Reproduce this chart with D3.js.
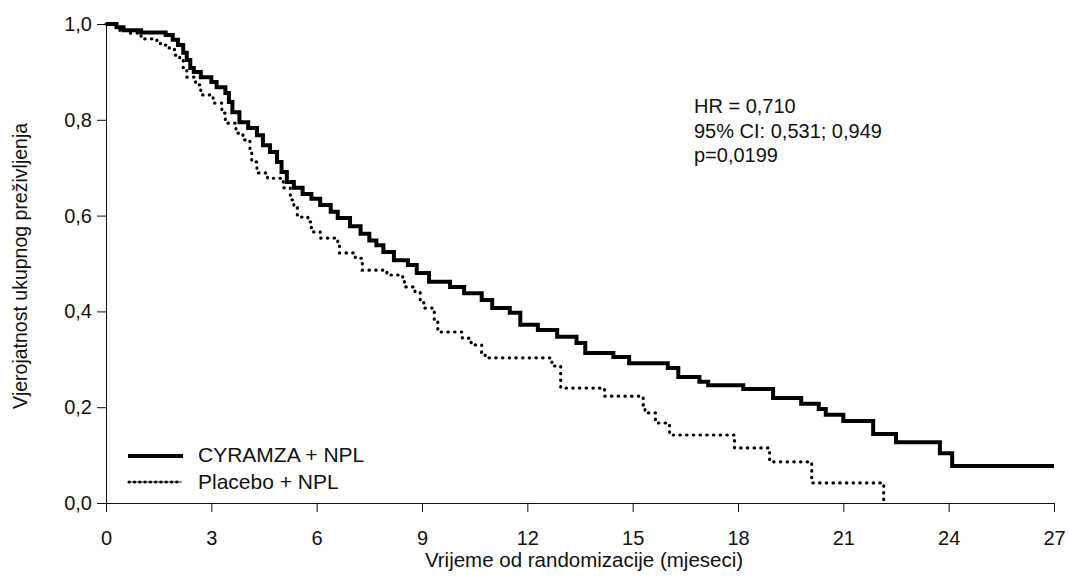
<!DOCTYPE html>
<html>
<head>
<meta charset="utf-8">
<script src="https://cdn.jsdelivr.net/npm/d3@7"></script>
<style>
  body { margin: 0; background: #fff; }
  svg { display: block; font-family: "Liberation Sans", Arial, sans-serif; }
  .tick text { font-size: 20px; fill: #111; }
  .domain, .tick line { stroke: #111; }
</style>
</head>
<body>
<div id="wrapper"></div>
<script>
// survival steps: [month, probability after drop]
const cyramzaSteps = [
  [0, 1.0], [0.3, 0.993], [0.5, 0.987], [1.0, 0.982], [1.7, 0.977], [1.9, 0.967],
  [2.05, 0.956], [2.2, 0.94], [2.3, 0.925], [2.4, 0.908], [2.5, 0.9], [2.7, 0.889],
  [3.0, 0.879], [3.15, 0.868], [3.4, 0.856], [3.5, 0.837], [3.6, 0.816], [3.8, 0.795],
  [4.05, 0.783], [4.3, 0.768], [4.47, 0.747], [4.67, 0.733], [4.87, 0.712], [5.0, 0.691],
  [5.15, 0.67], [5.35, 0.658], [5.6, 0.645], [5.85, 0.635], [6.1, 0.622], [6.4, 0.608],
  [6.6, 0.595], [6.95, 0.578], [7.25, 0.562], [7.5, 0.548], [7.7, 0.538], [7.9, 0.524],
  [8.2, 0.507], [8.6, 0.497], [8.85, 0.48], [9.2, 0.462], [9.8, 0.451], [10.2, 0.438],
  [10.7, 0.424], [11.0, 0.407], [11.5, 0.397], [11.8, 0.372], [12.3, 0.361], [12.85, 0.347],
  [13.4, 0.334], [13.65, 0.313], [14.45, 0.305], [14.9, 0.292], [16.0, 0.282], [16.3, 0.263],
  [16.9, 0.253], [17.15, 0.246], [18.15, 0.238], [19.0, 0.219], [19.8, 0.207], [20.3, 0.196],
  [20.5, 0.184], [21.0, 0.171], [21.85, 0.144], [22.5, 0.127], [23.75, 0.104], [24.1, 0.077],
  [27.0, 0.077]
]

const placeboSteps = [
  [0, 1.0], [0.25, 0.993], [0.4, 0.987], [0.6, 0.981], [1.0, 0.969], [1.45, 0.962],
  [1.55, 0.956], [1.75, 0.95], [1.95, 0.935], [2.1, 0.925], [2.2, 0.905], [2.3, 0.889],
  [2.55, 0.873], [2.7, 0.852], [3.05, 0.835], [3.3, 0.814], [3.4, 0.793], [3.7, 0.772],
  [3.9, 0.758], [4.1, 0.733], [4.15, 0.712], [4.3, 0.689], [4.6, 0.678], [5.05, 0.658],
  [5.25, 0.633], [5.35, 0.616], [5.45, 0.597], [5.75, 0.587], [5.85, 0.566], [6.1, 0.553],
  [6.6, 0.543], [6.65, 0.522], [7.1, 0.511], [7.3, 0.486], [8.0, 0.476], [8.45, 0.47],
  [8.5, 0.451], [8.8, 0.44], [8.95, 0.42], [9.05, 0.407], [9.35, 0.382], [9.45, 0.357],
  [10.15, 0.344], [10.4, 0.33], [10.7, 0.315], [10.8, 0.303], [12.7, 0.286], [12.95, 0.24],
  [14.2, 0.223], [15.3, 0.205], [15.35, 0.188], [15.65, 0.167], [16.05, 0.142], [17.9, 0.115],
  [18.9, 0.086], [20.1, 0.042], [22.15, 0.0]
]

const xTicks = [0, 3, 6, 9, 12, 15, 18, 21, 24, 27]
const yTicks = [0, 0.2, 0.4, 0.6, 0.8, 1.0]
const seriesNames = ["CYRAMZA + NPL", "Placebo + NPL"]
const statsLines = ["HR = 0,710", "95% CI: 0,531; 0,949", "p=0,0199"]

const dimensions = {
  width: 1068,
  height: 580,
  margin: { top: 24, right: 14, bottom: 77, left: 106 }
}
dimensions.boundedWidth = dimensions.width - dimensions.margin.left - dimensions.margin.right
dimensions.boundedHeight = dimensions.height - dimensions.margin.top - dimensions.margin.bottom

const wrapper = d3.select("#wrapper")
  .append("svg")
    .attr("width", dimensions.width)
    .attr("height", dimensions.height)

const bounds = wrapper.append("g")
  .attr("transform", `translate(${dimensions.margin.left},${dimensions.margin.top})`)

const xScale = d3.scaleLinear().domain([0, 27]).range([0, dimensions.boundedWidth])
const yScale = d3.scaleLinear().domain([0, 1]).range([dimensions.boundedHeight, 0])

const commaFmt = d => d3.format(".1f")(d).replace(".", ",")

// axes
const xAxis = bounds.append("g")
  .attr("transform", `translate(0,${dimensions.boundedHeight})`)
  .call(d3.axisBottom(xScale).tickValues(xTicks).tickSize(9).tickPadding(19).tickSizeOuter(0))

const yAxis = bounds.append("g")
  .call(d3.axisLeft(yScale).tickValues(yTicks).tickFormat(commaFmt).tickSize(9).tickPadding(5).tickSizeOuter(0))

// curves
const lineGen = d3.line()
  .x(d => xScale(d[0]))
  .y(d => yScale(d[1]))
  .curve(d3.curveStepAfter)

bounds.append("path")
  .attr("d", lineGen(cyramzaSteps))
  .attr("fill", "none")
  .attr("stroke", "#000")
  .attr("stroke-width", 4)

bounds.append("path")
  .attr("d", lineGen(placeboSteps))
  .attr("fill", "none")
  .attr("stroke", "#000")
  .attr("stroke-width", 3.2)
  .attr("stroke-linecap", "round")
  .attr("stroke-dasharray", "0.4,6.3")

// legend
const legend = wrapper.append("g")
  .attr("transform", "translate(128,456)")

legend.append("line")
  .attr("x1", 0).attr("x2", 55).attr("y1", 0).attr("y2", 0)
  .attr("stroke", "#000").attr("stroke-width", 4)

legend.append("line")
  .attr("x1", 1).attr("x2", 54).attr("y1", 26).attr("y2", 26)
  .attr("stroke", "#333").attr("stroke-width", 1)

legend.append("line")
  .attr("x1", 1).attr("x2", 54).attr("y1", 26).attr("y2", 26)
  .attr("stroke", "#000").attr("stroke-width", 3)
  .attr("stroke-linecap", "round")
  .attr("stroke-dasharray", "0.3,5")

legend.selectAll("text")
  .data(seriesNames)
  .join("text")
    .attr("x", 70)
    .attr("y", (d, i) => i * 27 + 6)
    .attr("font-size", 21)
    .attr("fill", "#111")
    .text(d => d)

// stats annotation
wrapper.append("g")
  .attr("transform", "translate(694,113)")
  .selectAll("text")
  .data(statsLines)
  .join("text")
    .attr("y", (d, i) => i * 24.5)
    .attr("font-size", 20)
    .attr("fill", "#111")
    .text(d => d)

// axis labels
wrapper.append("text")
  .attr("x", 584)
  .attr("y", 567)
  .attr("text-anchor", "middle")
  .attr("font-size", 20.5)
  .attr("fill", "#111")
  .text("Vrijeme od randomizacije (mjeseci)")

wrapper.append("text")
  .attr("transform", `translate(27,266) rotate(-90)`)
  .attr("text-anchor", "middle")
  .attr("font-size", 19.5)
  .attr("fill", "#111")
  .text("Vjerojatnost ukupnog preživljenja")
</script>
</body>
</html>
